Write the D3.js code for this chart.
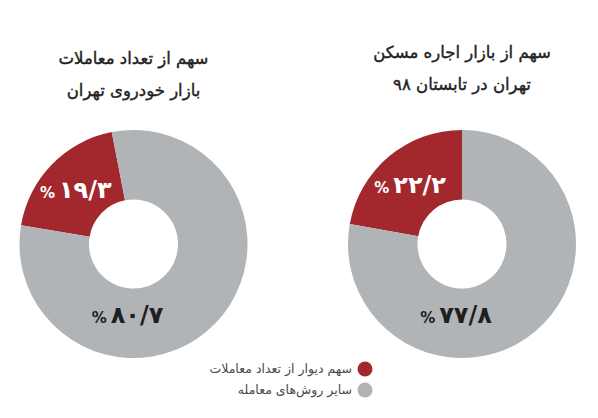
<!DOCTYPE html>
<html lang="fa">
<head>
<meta charset="utf-8">
<script src="https://cdn.jsdelivr.net/npm/d3@7"></script>
<style>
  html, body { margin: 0; padding: 0; background: #fff; }
  svg { display: block; font-family: "DejaVu Sans", sans-serif; }
</style>
</head>
<body>
<div id="chart"></div>
<script>
// data
var titles = [
  ["سهم از تعداد معاملات", "بازار خودروی تهران"],
  ["سهم از بازار اجاره مسکن", "تهران در تابستان ۹۸"]
];
var divarShare = [19.3, 22.2];
var otherShare = [80.7, 77.8];
var shareLabels = [["۱۹/۳", "۸۰/۷"], ["۲۲/۲", "۷۷/۸"]];
var legendLabels = ["سهم دیوار از تعداد معاملات", "سایر روش‌های معامله"];

var width = 598, height = 418;
var colors = ["#a3282e", "#b0b4b7"];

var svg = d3.select("#chart")
    .append("svg")
    .attr("width", width)
    .attr("height", height);

// layout per chart
var centers = [[133.5, 244], [462, 244]];
var redEnd = [-11, 0];          // degrees, where the red slice ends (clockwise from top)
var titleY = [[58, 90], [52, 84]];

var outerR = 114, innerR = 44.5;

var arc = d3.arc()
    .innerRadius(innerR)
    .outerRadius(outerR);

function pctLabel(g, x, y, label, fill) {
    var t = g.append("text")
        .attr("x", x)
        .attr("y", y)
        .attr("dy", "0.35em")
        .attr("text-anchor", "middle")
        .attr("direction", "ltr")
        .style("font-weight", "700")
        .style("fill", fill);
    t.append("tspan")
        .style("font-size", "15px")
        .text("%");
    t.append("tspan")
        .attr("dx", 4)
        .style("font-size", "24px")
        .text(label);
}

//------------------- DONUTS -------------------\\
titles.forEach(function(t, i) {
    var vals = [divarShare[i], otherShare[i]];
    var start = (redEnd[i] - divarShare[i] / 100 * 360) * Math.PI / 180;
    var pie = d3.pie()
        .sort(null)
        .value(function(d) { return d; })
        .startAngle(start)
        .endAngle(start + 2 * Math.PI);

    var g = svg.append("g")
        .attr("transform", "translate(" + centers[i][0] + "," + centers[i][1] + ")");

    var arcs = pie(vals);

    g.selectAll("path")
        .data(arcs)
        .join("path")
        .attr("d", arc)
        .attr("fill", function(d, j) { return colors[j]; });

    // red label on centroid
    var c = arc.centroid(arcs[0]);
    pctLabel(g, c[0] - 1, c[1] + 4, shareLabels[i][0], "#fff");

    // gray label at the bottom
    var p = d3.pointRadial(Math.PI, 73);
    pctLabel(g, p[0] - 6, p[1], shareLabels[i][1], "#1e1e1e");

    // title
    t.forEach(function(line, k) {
        svg.append("text")
            .attr("x", centers[i][0])
            .attr("y", titleY[i][k])
            .attr("dy", "0.35em")
            .attr("text-anchor", "middle")
            .attr("direction", "rtl")
            .style("font-size", "16.5px")
            .style("font-weight", "400")
            .style("stroke", "#222")
            .style("stroke-width", 0.4)
            .style("fill", "#222")
            .text(line);
    });
});

//------------------- LEGEND -------------------\\
var legend = svg.selectAll(".legend")
    .data(legendLabels)
    .join("g")
    .attr("class", "legend")
    .attr("transform", function(d, i) { return "translate(365," + (369 + i * 21) + ")"; });

legend.append("circle")
    .attr("r", 7.5)
    .attr("fill", function(d, i) { return colors[i]; });

legend.append("text")
    .attr("x", -13)
    .attr("dy", "0.35em")
    .attr("text-anchor", "end")
    .style("font-size", "12.5px")
    .style("fill", "#4a4a4a")
    .text(function(d) { return d; });
</script>
</body>
</html>
